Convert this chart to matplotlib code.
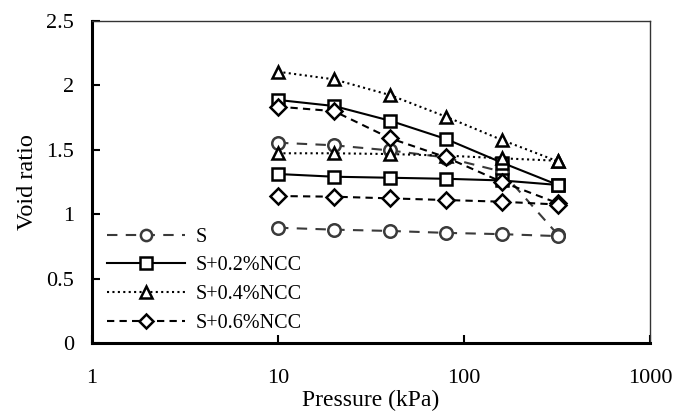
import matplotlib
matplotlib.use('Agg')
import matplotlib.pyplot as plt
from matplotlib.ticker import FixedLocator, NullLocator

plt.rcParams['font.family'] = ['Liberation Serif', 'DejaVu Serif']

pressure = [10, 20, 40, 80, 160, 320]

# loose (upper) and dense (lower) curves for each mix
s_loose = [1.555, 1.535, 1.495, 1.44, 1.33, 0.84]
s_dense = [0.895, 0.88, 0.87, 0.855, 0.845, 0.83]
ncc02_loose = [1.887, 1.84, 1.726, 1.584, 1.40, 1.227]
ncc02_dense = [1.312, 1.291, 1.283, 1.275, 1.262, 1.227]
ncc04_loose = [2.106, 2.047, 1.925, 1.757, 1.576, 1.41]
ncc04_dense = [1.473, 1.473, 1.467, 1.455, 1.434, 1.415]
ncc06_loose = [1.835, 1.80, 1.59, 1.442, 1.25, 1.085]
ncc06_dense = [1.141, 1.136, 1.123, 1.11, 1.097, 1.075]

labels = ['S', 'S+0.2%NCC', 'S+0.4%NCC', 'S+0.6%NCC']

dpi = 100
fig = plt.figure(figsize=(6.74, 4.12), dpi=dpi)
ax = fig.add_axes([92 / 674, 69 / 412, 558 / 674, 322 / 412])

styles = [
    dict(color='#3a3a3a', linestyle=(0, (5, 4)), marker='o'),
    dict(color='black', linestyle='-', marker='s'),
    dict(color='black', linestyle=(0, (1, 1.6)), marker='^'),
    dict(color='black', linestyle=(0, (3.5, 2.5)), marker='D'),
]
series = [(s_loose, s_dense), (ncc02_loose, ncc02_dense),
          (ncc04_loose, ncc04_dense), (ncc06_loose, ncc06_dense)]

for (loose, dense), st, lab in zip(series, styles, labels):
    ms = 8 if st['marker'] == 'D' else 9
    kw = dict(lw=1.5, markersize=ms, markerfacecolor='white',
              markeredgecolor=st['color'], markeredgewidth=1.8,
              color=st['color'], linestyle=st['linestyle'], marker=st['marker'])
    ax.plot(pressure, loose, label=lab, **kw)
    ax.plot(pressure, dense, **kw)

ax.set_xscale('log')
ax.set_xlim(1, 1000)
ax.set_ylim(0, 2.5)
ax.xaxis.set_major_locator(FixedLocator([1, 10, 100, 1000]))
ax.xaxis.set_minor_locator(NullLocator())
ax.set_xticklabels(['1', '10', '100', '1000'])
ax.set_yticks([0, 0.5, 1, 1.5, 2, 2.5])
ax.set_yticklabels(['0', '0.5', '1', '1.5', '2', '2.5'])

ax.tick_params(axis='both', direction='in', length=6, width=1.5,
               labelsize=16, pad=13)
ax.tick_params(axis='x', pad=19)

for side in ['left', 'bottom']:
    ax.spines[side].set_linewidth(2.2)
    ax.spines[side].set_color('black')
for side in ['top', 'right']:
    ax.spines[side].set_linewidth(1.0)
    ax.spines[side].set_color('#333333')

ax.set_xlabel('Pressure (kPa)', fontsize=17, labelpad=1)
ax.set_ylabel('Void ratio', fontsize=17.5, labelpad=6)

leg = ax.legend(loc='lower left', bbox_to_anchor=(0.008, 0.0), frameon=False,
                fontsize=14.5, handlelength=3.9, handletextpad=0.5,
                labelspacing=0.48, borderaxespad=0.1, markerscale=0.9)

fig.savefig('out.png', dpi=dpi)
